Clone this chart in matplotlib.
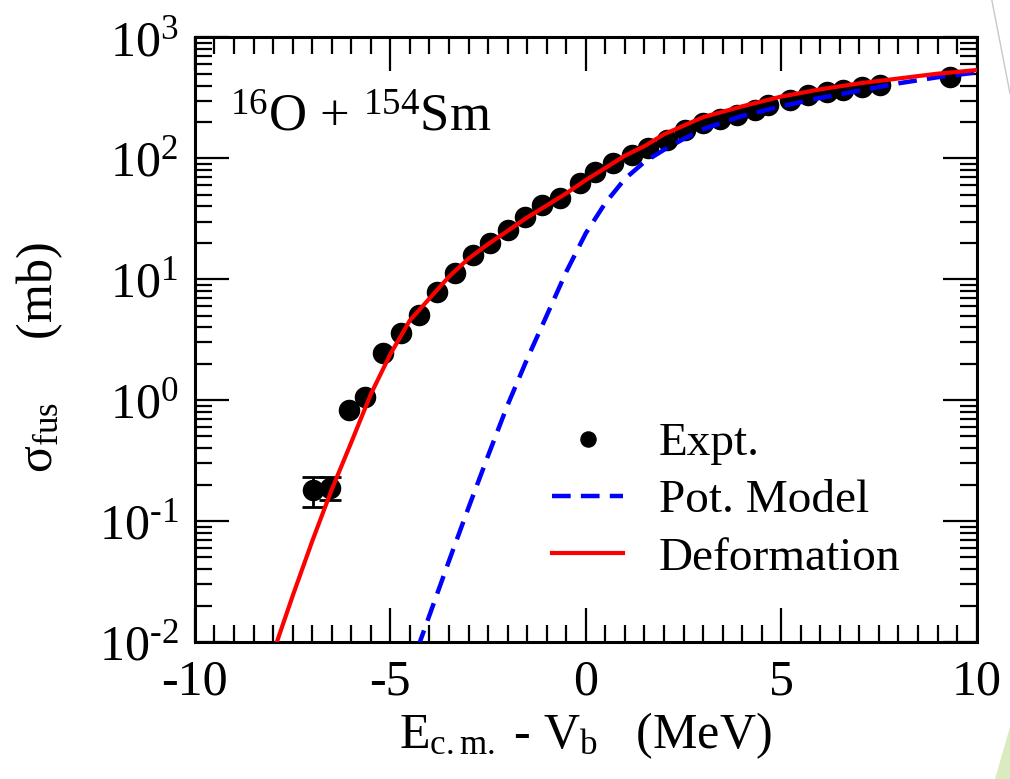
import matplotlib.pyplot as plt
from matplotlib.patches import Polygon
from matplotlib.lines import Line2D
from matplotlib.ticker import MultipleLocator, LogLocator, FixedLocator, FixedFormatter, NullFormatter

plt.rcParams['font.family'] = ['Liberation Serif', 'DejaVu Serif']
plt.rcParams['mathtext.fontset'] = 'custom'
plt.rcParams['mathtext.rm'] = 'Liberation Serif'
plt.rcParams['mathtext.it'] = 'Liberation Serif:italic'
plt.rcParams['axes.unicode_minus'] = False

# experimental points (E_cm - V_b in MeV, sigma_fus in mb)
expt_x = [-6.98, -6.55, -6.06, -5.65, -5.19, -4.73, -4.27, -3.81, -3.35, -2.89,
          -2.46, -2.00, -1.56, -1.13, -0.66, -0.15, 0.23, 0.69, 1.18, 1.59,
          2.07, 2.53, 2.99, 3.43, 3.86, 4.32, 4.65, 5.22, 5.68, 6.16,
          6.57, 7.06, 7.52, 9.31]
expt_y = [0.18, 0.187, 0.83, 1.06, 2.44, 3.58, 5.04, 7.8, 11.2, 15.8,
          19.8, 25.4, 32.5, 40.9, 46.7, 62.0, 76.6, 91.0, 106.0, 121.0,
          141.0, 170.0, 195.0, 212.0, 227.0, 249.0, 274.0, 301.0, 332.0, 351.0,
          365.0, 386.0, 401.0, 467.0]
# error bars only on the two lowest points
err_x = [-6.98, -6.55]
err_y = [0.18, 0.187]
err_lo = [0.05, 0.038]
err_hi = [0.05, 0.043]

# potential model (no coupling)
pot_x = [-4.3, -4.0, -3.5, -3.0, -2.5, -2.0, -1.5, -1.0, -0.5, 0.0,
         0.5, 1.0, 1.5, 2.0, 2.5, 3.0, 4.0, 5.0, 6.0, 7.0, 8.0, 9.0, 10.0]
pot_y = [0.0089, 0.0166, 0.0468, 0.129, 0.347, 0.912, 2.19, 5.01, 11.5, 24.0,
         42.7, 67.6, 93.3, 117.5, 144.5, 174.0, 224.0, 269.0, 316.0, 363.0, 417.0, 468.0, 513.0]

# coupled channels with deformation
def_x = [-8.0, -7.5, -7.0, -6.5, -6.0, -5.5, -5.0, -4.5, -4.0, -3.5,
         -3.0, -2.5, -2.0, -1.5, -1.0, -0.5, 0.0, 0.5, 1.0, 1.5,
         2.0, 2.5, 3.0, 4.0, 5.0, 6.0, 7.0, 8.0, 9.0, 10.0]
def_y = [0.0081, 0.024, 0.068, 0.182, 0.447, 1.12, 2.40, 4.57, 6.92, 10.5,
         14.8, 19.5, 25.1, 32.4, 40.7, 51.3, 66.1, 83.2, 105.0, 126.0,
         158.0, 186.0, 219.0, 269.0, 324.0, 372.0, 417.0, 457.0, 501.0, 537.0]

fig = plt.figure(figsize=(10.1, 7.79), dpi=100)
ax = fig.add_axes([0.193, 0.176, 0.774, 0.776])

ax.plot(pot_x, pot_y, color='#0000ff', lw=3.2, dashes=(4.2, 2.3), label='Pot. Model', zorder=3)
ax.plot(def_x, def_y, color='#ff0000', lw=3, label='Deformation', zorder=4)
ax.errorbar(err_x, err_y, yerr=[err_lo, err_hi], fmt='none', ecolor='black',
            elinewidth=2, capsize=8, capthick=2, zorder=2)
ax.plot(expt_x, expt_y, 'o', color='black', ms=14.5, label='Expt.', zorder=2)

ax.set_yscale('log')
ax.set_xlim(-10, 10)
ax.set_ylim(1e-2, 1e3)

ax.xaxis.set_major_locator(FixedLocator([-10, -5, 0, 5, 10]))
ax.xaxis.set_major_formatter(FixedFormatter(['-10', '-5', '0', '5', '10']))
ax.xaxis.set_minor_locator(MultipleLocator(0.5))
decades = [-2, -1, 0, 1, 2, 3]
ax.yaxis.set_major_locator(FixedLocator([10.0 ** d for d in decades]))
ax.yaxis.set_major_formatter(FixedFormatter(
    ['10$^{\\mathrm{%s}}$' % str(d).replace('-', '\u2010') for d in decades]))
ax.yaxis.set_minor_locator(LogLocator(base=10, subs=range(2, 10), numticks=20))
ax.yaxis.set_minor_formatter(NullFormatter())

ax.tick_params(which='both', direction='in', top=True, right=True, width=1.6, labelsize=36)
ax.tick_params(which='major', length=24.5, pad=12)
ax.tick_params(which='minor', length=12)
for s in ax.spines.values():
    s.set_linewidth(2.2)

ax.set_xlabel('E$_{\\mathrm{c.m.}}$ - V$_{\\mathrm{b}}$   (MeV)', fontsize=36, labelpad=4)
ax.set_ylabel('σ$_{\\mathrm{fus}}$     (mb)', fontsize=36, labelpad=12)
ax.yaxis.set_label_coords(-0.166, 0.47)

ax.text(0.045, 0.845, '$^{\\mathrm{16}}$O + $^{\\mathrm{154}}$Sm', transform=ax.transAxes,
        fontsize=38, ha='left', va='baseline')

handles, labels = ax.get_legend_handles_labels()
order = [2, 0, 1]
ax.legend([handles[i] for i in order], [labels[i] for i in order],
          loc='upper left', bbox_to_anchor=(0.433, 0.395), frameon=False,
          fontsize=34, handlelength=1.5, handletextpad=0.75, labelspacing=0.3,
          markerscale=0.75, borderaxespad=0)

# slide decorations
fig.patches.append(Polygon([[0.985, 0.0], [1.0, 0.0], [1.0, 0.067]], closed=True,
                           transform=fig.transFigure, facecolor='#d9ebbf', edgecolor='none'))
fig.lines.append(Line2D([0.982, 1.0], [1.0, 0.88], transform=fig.transFigure,
                        color='#c8c8c8', lw=1))

fig.savefig('out.png', dpi=100)
